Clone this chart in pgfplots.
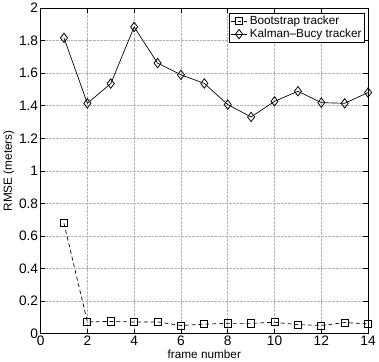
\documentclass[border=0pt]{standalone}
\usepackage{fontspec}
\setmainfont{Liberation Sans}
\usepackage{pgfplots}
\pgfplotsset{compat=1.18}
\begin{document}
\begin{tikzpicture}
\begin{axis}[
  scale only axis,
  width=334pt, height=332pt,
  xmin=0, xmax=14, ymin=0, ymax=2,
  xtick={0,2,...,14},
  ytick={0,0.2,...,2},
  yticklabels={0,0.2,0.4,0.6,0.8,1,1.2,1.4,1.6,1.8,2},
  tick align=inside,
  tick pos=both,
  major tick length=5pt,
  grid=major,
  grid style={densely dotted, gray!60, line width=0.5pt},
  axis line style={line width=0.8pt},
  tick style={black, line width=0.6pt},
  /pgf/number format/assume math mode=true,
  ticklabel style={font=\fontsize{14}{14}\selectfont},
  xticklabel style={yshift=1pt},
  yticklabel style={xshift=1pt},
  xlabel={frame number},
  ylabel={RMSE (meters)},
  label style={font=\fontsize{12}{12}\selectfont},
  xlabel style={yshift=3pt},
  ylabel style={yshift=-2pt},
  legend style={at={(0.99,0.985)}, anchor=north east, font=\fontsize{12}{13}\selectfont, draw=black, line width=0.6pt, inner sep=1pt, row sep=-1pt, cells={anchor=west}},
  legend cell align=left,
]
\addplot[black, line width=0.7pt, densely dashed, dash pattern=on 4pt off 3pt, mark=square, mark size=3.6pt, mark options={solid, line width=0.8pt}] coordinates {
(1,0.678) (2,0.072) (3,0.075) (4,0.071) (5,0.072) (6,0.050) (7,0.058) (8,0.063) (9,0.063) (10,0.070) (11,0.055) (12,0.050) (13,0.068) (14,0.060)
};
\addlegendentry{Bootstrap tracker}
\addplot[black, line width=0.7pt, mark=diamond, mark size=4.8pt, mark options={solid, line width=0.8pt}] coordinates {
(1,1.817) (2,1.415) (3,1.536) (4,1.884) (5,1.662) (6,1.590) (7,1.537) (8,1.407) (9,1.331) (10,1.427) (11,1.489) (12,1.419) (13,1.415) (14,1.481)
};
\addlegendentry{Kalman--Bucy tracker}
\end{axis}
\end{tikzpicture}
\end{document}
